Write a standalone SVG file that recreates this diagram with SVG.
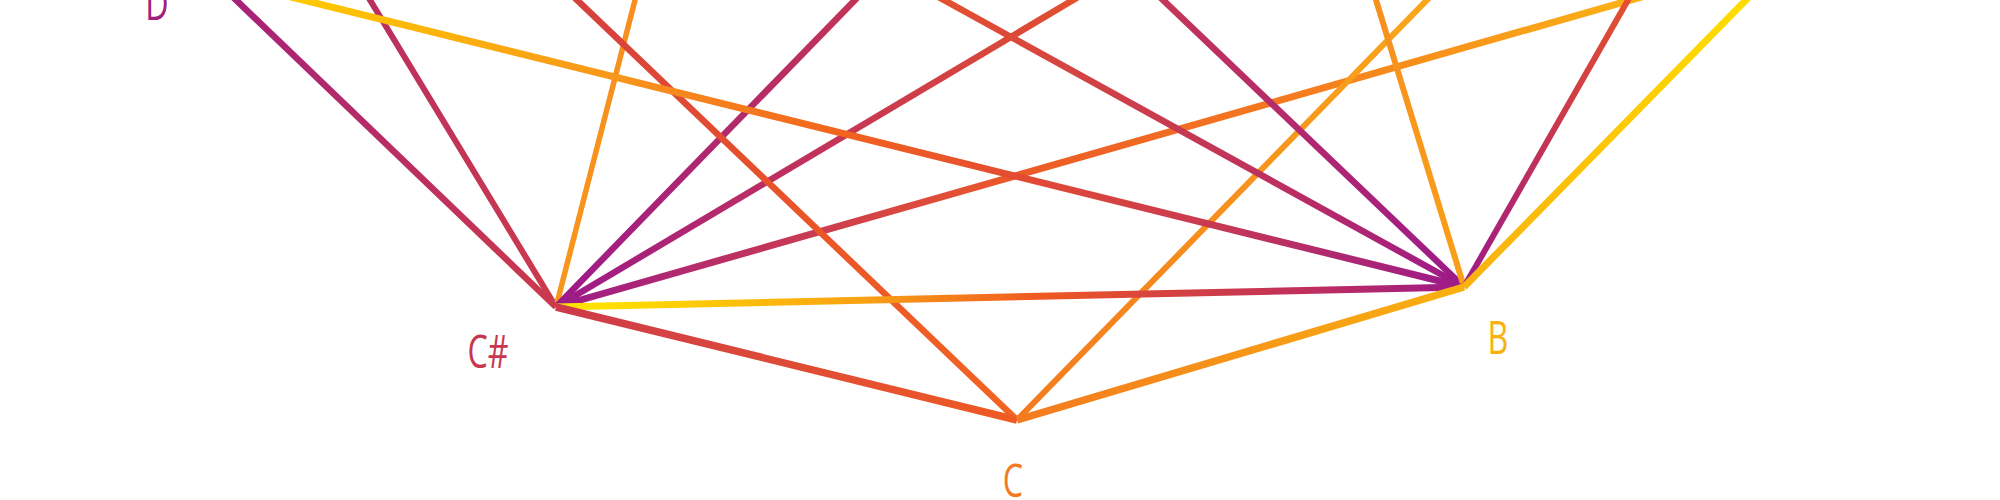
<svg xmlns="http://www.w3.org/2000/svg" width="2000" height="500" viewBox="0 0 2000 500">
<style>
.e{fill:none;stroke-linecap:butt}
.lbl{font-family:"Open Sans","Liberation Sans",sans-serif;font-weight:400;font-size:46px;text-anchor:middle}
</style>
<defs>
<linearGradient id="g1" gradientUnits="userSpaceOnUse" x1="236" y1="0" x2="556" y2="307"><stop offset="0" stop-color="#a6227a"/><stop offset="1" stop-color="#cc3a4c"/></linearGradient>
<linearGradient id="g2" gradientUnits="userSpaceOnUse" x1="370" y1="0" x2="556" y2="307"><stop offset="0" stop-color="#ba2f60"/><stop offset="1" stop-color="#cc3a4c"/></linearGradient>
<linearGradient id="g3" gradientUnits="userSpaceOnUse" x1="635" y1="0" x2="556" y2="307"><stop offset="0" stop-color="#f78e1d"/><stop offset="1" stop-color="#f8961c"/></linearGradient>
<linearGradient id="g4" gradientUnits="userSpaceOnUse" x1="855" y1="0" x2="556" y2="307"><stop offset="0" stop-color="#c23456"/><stop offset="1" stop-color="#9c1a8a"/></linearGradient>
<linearGradient id="g5" gradientUnits="userSpaceOnUse" x1="1073" y1="0" x2="556" y2="307"><stop offset="0" stop-color="#e2502e"/><stop offset="0.5" stop-color="#c2335a"/><stop offset="1" stop-color="#9c1a8a"/></linearGradient>
<linearGradient id="g6" gradientUnits="userSpaceOnUse" x1="1631" y1="0" x2="556" y2="307"><stop offset="0" stop-color="#fbb116"/><stop offset="0.31" stop-color="#f57c1e"/><stop offset="0.57" stop-color="#ec5a28"/><stop offset="0.75" stop-color="#cc3d4f"/><stop offset="1" stop-color="#9c1a8a"/></linearGradient>
<linearGradient id="g7" gradientUnits="userSpaceOnUse" x1="556" y1="307" x2="1464" y2="287"><stop offset="0" stop-color="#ffe600"/><stop offset="0.05" stop-color="#ffe000"/><stop offset="0.34" stop-color="#f9a114"/><stop offset="0.53" stop-color="#f05a22"/><stop offset="0.66" stop-color="#d7443d"/><stop offset="0.82" stop-color="#c0305c"/><stop offset="1" stop-color="#9c1a8a"/></linearGradient>
<linearGradient id="g8" gradientUnits="userSpaceOnUse" x1="556" y1="307" x2="1017" y2="420"><stop offset="0" stop-color="#cc3a4b"/><stop offset="1" stop-color="#f05c22"/></linearGradient>
<linearGradient id="g9" gradientUnits="userSpaceOnUse" x1="577" y1="0" x2="1017" y2="420"><stop offset="0" stop-color="#d4403f"/><stop offset="0.5" stop-color="#ea5429"/><stop offset="1" stop-color="#f26522"/></linearGradient>
<linearGradient id="g10" gradientUnits="userSpaceOnUse" x1="1427" y1="0" x2="1017" y2="420"><stop offset="0" stop-color="#f9a61a"/><stop offset="1" stop-color="#f47a1f"/></linearGradient>
<linearGradient id="g11" gradientUnits="userSpaceOnUse" x1="1017" y1="420" x2="1464" y2="287"><stop offset="0" stop-color="#f47a1f"/><stop offset="1" stop-color="#f9b10f"/></linearGradient>
<linearGradient id="g12" gradientUnits="userSpaceOnUse" x1="303" y1="0" x2="1464" y2="287"><stop offset="0" stop-color="#ffc800"/><stop offset="0.27" stop-color="#f8961c"/><stop offset="0.47" stop-color="#f2621f"/><stop offset="0.62" stop-color="#e24b33"/><stop offset="0.78" stop-color="#c83a52"/><stop offset="0.88" stop-color="#b02a6d"/><stop offset="1" stop-color="#9c1a8a"/></linearGradient>
<linearGradient id="g13" gradientUnits="userSpaceOnUse" x1="944" y1="0" x2="1464" y2="287"><stop offset="0" stop-color="#e4502f"/><stop offset="0.45" stop-color="#c63a52"/><stop offset="0.7" stop-color="#b82c66"/><stop offset="1" stop-color="#9c1a8a"/></linearGradient>
<linearGradient id="g14" gradientUnits="userSpaceOnUse" x1="1163" y1="0" x2="1464" y2="287"><stop offset="0" stop-color="#c43558"/><stop offset="1" stop-color="#9c1a8a"/></linearGradient>
<linearGradient id="g15" gradientUnits="userSpaceOnUse" x1="1376" y1="0" x2="1464" y2="287"><stop offset="0" stop-color="#f7901e"/><stop offset="1" stop-color="#f9a11a"/></linearGradient>
<linearGradient id="g16" gradientUnits="userSpaceOnUse" x1="1628" y1="0" x2="1464" y2="287"><stop offset="0" stop-color="#e4502f"/><stop offset="0.45" stop-color="#c8374f"/><stop offset="1" stop-color="#9c1a8a"/></linearGradient>
<linearGradient id="g17" gradientUnits="userSpaceOnUse" x1="1464" y1="287" x2="1746" y2="0"><stop offset="0" stop-color="#f9b10f"/><stop offset="1" stop-color="#ffdd00"/></linearGradient>
</defs>
<rect width="2000" height="500" fill="#ffffff"/>
<g id="connectors">
<line class="e" x1="360.9" y1="-15" x2="556" y2="307" stroke="url(#g2)" stroke-width="6"/>
<line class="e" x1="638.9" y1="-15" x2="556" y2="307" stroke="url(#g3)" stroke-width="5.5"/>
<line class="e" x1="869.6" y1="-15" x2="556" y2="307" stroke="url(#g4)" stroke-width="6.5"/>
<line class="e" x1="1098.3" y1="-15" x2="556" y2="307" stroke="url(#g5)" stroke-width="6.5"/>
<line class="e" x1="1683.5" y1="-15" x2="556" y2="307" stroke="url(#g6)" stroke-width="7"/>
<line class="e" x1="561.3" y1="-15" x2="1017" y2="420" stroke="url(#g9)" stroke-width="6.5"/>
<line class="e" x1="1441.6" y1="-15" x2="1017" y2="420" stroke="url(#g10)" stroke-width="6"/>
<line class="e" x1="242.3" y1="-15" x2="1464" y2="287" stroke="url(#g12)" stroke-width="7"/>
<line class="e" x1="916.8" y1="-15" x2="1464" y2="287" stroke="url(#g13)" stroke-width="6.5"/>
<line class="e" x1="1147.3" y1="-15" x2="1464" y2="287" stroke="url(#g14)" stroke-width="6.5"/>
<line class="e" x1="1371.4" y1="-15" x2="1464" y2="287" stroke="url(#g15)" stroke-width="6"/>
<line class="e" x1="1636.6" y1="-15" x2="1464" y2="287" stroke="url(#g16)" stroke-width="6"/>
<line class="e" x1="556" y1="307" x2="1464" y2="287" stroke="url(#g7)" stroke-width="7"/>
<line class="e" x1="220.4" y1="-15" x2="556" y2="307" stroke="url(#g1)" stroke-width="6.5"/>
<line class="e" x1="556" y1="307" x2="1017" y2="420" stroke="url(#g8)" stroke-width="7.5"/>
<line class="e" x1="1017" y1="420" x2="1464" y2="287" stroke="url(#g11)" stroke-width="7.5"/>
<line class="e" x1="1464" y1="287" x2="1760.7" y2="-15" stroke="url(#g17)" stroke-width="7"/>
</g>
<g id="node-D"><text class="lbl" fill="#a3207c" transform="translate(157 20) scale(0.7 1)">D</text></g>
<g id="node-Csharp"><text class="lbl" fill="#c8374f" transform="translate(488 368) scale(0.7 1)">C#</text></g>
<g id="node-C"><text class="lbl" fill="#f47a1f" transform="translate(1013 497) scale(0.7 1)">C</text></g>
<g id="node-B"><text class="lbl" fill="#f9b10f" transform="translate(1498 354) scale(0.7 1)">B</text></g>
</svg>
